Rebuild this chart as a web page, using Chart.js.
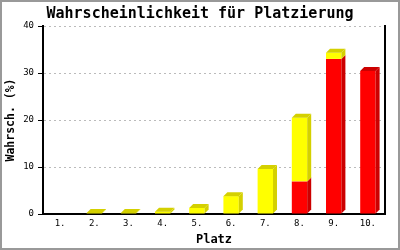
<!DOCTYPE html>
<html>
<head>
<meta charset="utf-8">
<script src="https://cdn.jsdelivr.net/npm/chart.js@4/dist/chart.umd.min.js"></script>
<style>
  html, body { margin: 0; padding: 0; background: #fff; }
  #wrap { width: 400px; height: 250px; }
</style>
</head>
<body>
<div id="wrap"><canvas id="platzChart" width="400" height="250"></canvas></div>
<script>
// Data
const categories = ['1.', '2.', '3.', '4.', '5.', '6.', '7.', '8.', '9.', '10.'];
const redValues = [0, 0, 0, 0, 0, 0, 0, 6.9, 33, 30.4];
const yellowValues = [0, 0.2, 0.2, 0.5, 1.3, 3.8, 9.6, 13.6, 1.3, 0];
const yTicks = [0, 10, 20, 30, 40];

const monoFont = '"DejaVu Sans Mono", "Liberation Mono", monospace';

// draw the 3D side/top faces and the frame
const depthPlugin = {
    id: 'depth',
    beforeDraw(chart) {
        const ctx = chart.ctx;
        ctx.save();
        ctx.fillStyle = '#ffffff';
        ctx.fillRect(0, 0, chart.width, chart.height);
        ctx.restore();
    },
    afterDatasetsDraw(chart) {
        const ctx = chart.ctx;
        const d = 4;
        const sideColors = ['#cc0000', '#d4d000'];
        const n = categories.length;
        ctx.save();
        for (let i = 0; i < n; i++) {
            let topBar = null, topDs = -1;
            for (let ds = 0; ds < chart.data.datasets.length; ds++) {
                const value = chart.data.datasets[ds].data[i];
                if (!value) continue;
                const bar = chart.getDatasetMeta(ds).data[i];
                const half = bar.width / 2;
                const top = Math.min(bar.y, bar.base);
                const bottom = Math.max(bar.y, bar.base);
                ctx.fillStyle = sideColors[ds];
                ctx.beginPath();
                ctx.moveTo(bar.x + half, bottom);
                ctx.lineTo(bar.x + half, top);
                ctx.lineTo(bar.x + half + d, top - d);
                ctx.lineTo(bar.x + half + d, bottom - d);
                ctx.closePath();
                ctx.fill();
                topBar = bar; topDs = ds;
            }
            if (topBar) {
                const half = topBar.width / 2;
                const top = Math.min(topBar.y, topBar.base);
                ctx.fillStyle = sideColors[topDs];
                ctx.beginPath();
                ctx.moveTo(topBar.x - half, top);
                ctx.lineTo(topBar.x - half + d, top - d);
                ctx.lineTo(topBar.x + half + d, top - d);
                ctx.lineTo(topBar.x + half, top);
                ctx.closePath();
                ctx.fill();
            }
        }
        ctx.restore();
    },
    afterDraw(chart) {
        const ctx = chart.ctx;
        ctx.save();
        ctx.strokeStyle = '#999999';
        ctx.lineWidth = 2;
        ctx.strokeRect(1, 1, chart.width - 2, chart.height - 2);
        ctx.restore();
    }
};

const config = {
    type: 'bar',
    data: {
        labels: categories,
        datasets: [
            {
                label: 'rot',
                data: redValues,
                backgroundColor: '#ff0000',
                borderWidth: 0,
                barPercentage: 0.45,
                categoryPercentage: 1.0
            },
            {
                label: 'gelb',
                data: yellowValues,
                backgroundColor: '#ffff00',
                borderWidth: 0,
                barPercentage: 0.45,
                categoryPercentage: 1.0
            }
        ]
    },
    options: {
        responsive: false,
        animation: false,
        layout: { padding: 0 },
        plugins: {
            legend: { display: false },
            tooltip: { enabled: false },
            title: {
                display: true,
                text: 'Wahrscheinlichkeit für Platzierung',
                color: '#000000',
                font: { family: monoFont, size: 15, weight: 'bold' },
                padding: { top: 5, bottom: 3 }
            }
        },
        scales: {
            x: {
                stacked: true,
                grid: { display: false, drawTicks: false, tickLength: 0 },
                border: { color: '#000000', width: 2 },
                ticks: {
                    color: '#000000',
                    font: { family: monoFont, size: 9 },
                    padding: 4,
                    maxRotation: 0
                },
                title: {
                    display: true,
                    text: 'Platz',
                    color: '#000000',
                    font: { family: monoFont, size: 12, weight: 'bold' },
                    padding: { top: 4, bottom: 3 }
                },
                afterFit(scale) { scale.height = 36; }
            },
            y: {
                stacked: true,
                min: 0,
                max: 40,
                afterBuildTicks(scale) {
                    scale.ticks = yTicks.map(v => ({ value: v }));
                },
                grid: {
                    color: '#bbbbbb',
                    tickColor: '#000000',
                    tickBorderDash: [],
                    tickLength: 5,
                    lineWidth: 1
                },
                border: { color: '#000000', width: 2, dash: [2, 3] },
                ticks: {
                    color: '#000000',
                    font: { family: monoFont, size: 9 },
                    padding: 4
                },
                title: {
                    display: true,
                    text: 'Wahrsch. (%)',
                    color: '#000000',
                    font: { family: monoFont, size: 11.5, weight: 'bold' },
                    padding: { top: 4, bottom: 2 }
                },
                afterFit(scale) { scale.width = 43; }
            },
            // right frame line of the plot box
            yRight: {
                position: 'right',
                min: 0,
                max: 40,
                grid: { display: false, drawTicks: false },
                ticks: { display: false },
                border: { color: '#000000', width: 2 },
                afterFit(scale) { scale.width = 15; }
            }
        }
    },
    plugins: [depthPlugin]
};

const platzChart = new Chart(document.getElementById('platzChart'), config);
</script>
</body>
</html>
